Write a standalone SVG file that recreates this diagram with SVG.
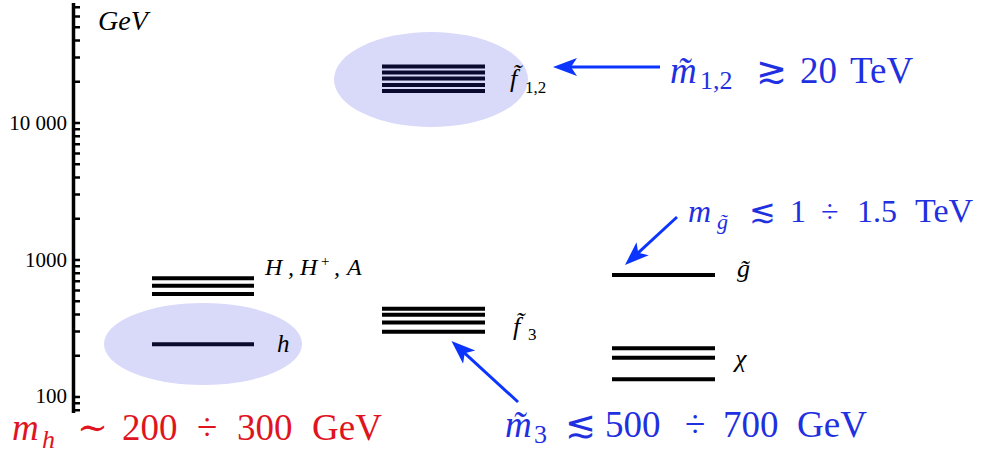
<svg xmlns="http://www.w3.org/2000/svg" width="990" height="454" viewBox="0 0 990 454">
<style>
  .ax{stroke:#000;stroke-width:3.5;fill:none}
  .tk{stroke:#000;stroke-width:2.5;fill:none}
  .tl{font-size:21px;fill:#000;text-anchor:end}
  .lvl{stroke:#000;stroke-width:4;fill:none}
  .lvd{stroke:#0a0a2e;stroke-width:4;fill:none}
  .blob{fill:#d9d9fa}
  .lab{font-style:italic;fill:#000}
  .math{font-size:37px}
  .it{font-style:italic}
  .blue{fill:#1f30e0}
  .red{fill:#e0141e}
  .arr{stroke:#0b35ff;stroke-width:3;fill:none;marker-end:url(#ah)}
</style>
<defs>
  <marker id="ah" viewBox="0 0 24 20" refX="12" refY="10" markerWidth="24" markerHeight="20" markerUnits="userSpaceOnUse" orient="auto">
    <path d="M0,1 L24,10 L0,19 L6,10 z" fill="#0b35ff"/>
  </marker>
</defs>
<rect width="990" height="454" fill="#fff"/>
<g font-family="Liberation Serif, DejaVu Serif, serif">

<g id="axis">
  <line class="ax" x1="73.5" y1="3" x2="73.5" y2="413"/>
  <path class="tk" d="M73.5,7.2H80M73.5,16.4H80M73.5,27.2H80M73.5,40.5H80M73.5,57.6H80M73.5,81.8H80M73.5,123H80M73.5,129.3H80M73.5,136.3H80M73.5,144.2H80M73.5,153.4H80M73.5,164.2H80M73.5,177.5H80M73.5,194.6H80M73.5,218.8H80M73.5,260H80M73.5,266.3H80M73.5,273.3H80M73.5,281.2H80M73.5,290.4H80M73.5,301.2H80M73.5,314.5H80M73.5,331.6H80M73.5,355.7H80M73.5,397H80M73.5,403.3H80M73.5,410.3H80"/>
  <text class="tl" x="67" y="130">10 000</text>
  <text class="tl" x="67" y="267">1000</text>
  <text class="tl" x="67" y="403">100</text>
  <text class="lab" x="98" y="30" font-size="28">GeV</text>
</g>

<g id="f12">
  <ellipse class="blob" cx="431" cy="79.5" rx="97" ry="47.5"/>
  <path class="lvd" d="M382,66.5H485M382,72.5H485M382,78.5H485M382,85H485M382,91H485"/>
  <text class="lab" font-size="26"><tspan x="510" y="87">f̃</tspan><tspan x="525" y="93" font-size="17" font-style="normal">1,2</tspan></text>
</g>

<g id="heavyHiggs">
  <path class="lvl" d="M152,278.3H254M152,285.7H254M152,294H254"/>
  <text class="lab" font-size="24"><tspan x="265" y="275">H</tspan><tspan x="288" y="275">,</tspan><tspan x="300" y="275">H</tspan><tspan x="321" y="266" font-size="15" font-style="normal">+</tspan><tspan x="334" y="275">,</tspan><tspan x="347" y="275">A</tspan></text>
</g>

<g id="h">
  <ellipse class="blob" cx="203" cy="344" rx="99" ry="41"/>
  <path class="lvd" d="M152,344.3H254"/>
  <text class="lab" x="277" y="352" font-size="25">h</text>
</g>

<g id="f3">
  <path class="lvl" d="M382,308.8H485M382,314.7H485M382,322.5H485M382,331.8H485"/>
  <text class="lab" font-size="26"><tspan x="513" y="335">f̃</tspan><tspan x="528" y="340" font-size="17" font-style="normal">3</tspan></text>
</g>

<g id="gluino">
  <path class="lvl" d="M612,275H715"/>
  <text class="lab" x="737" y="277" font-size="26">g̃</text>
</g>

<g id="chi">
  <path class="lvl" d="M612,348.3H715M612,357.7H715M612,379.3H715"/>
  <text class="lab" x="735" y="367" font-size="26">χ</text>
</g>

<g id="connectors">
  <line class="arr" x1="660" y1="67" x2="565" y2="67"/>
  <line class="arr" x1="677" y1="217" x2="633.8" y2="256.9"/>
  <line class="arr" x1="518" y1="402" x2="460.3" y2="349.1"/>
</g>

<g id="label-m12">
  <text class="math blue"><tspan class="it" x="670" y="83">m̃</tspan><tspan x="700" y="89" font-size="26">1,2</tspan><tspan x="756" y="83">≳</tspan><tspan x="800" y="83">20</tspan><tspan x="850" y="83">TeV</tspan></text>
</g>
<g id="label-mg">
  <text class="math blue"><tspan class="it" x="688" y="222" font-size="32">m</tspan><tspan class="it" x="717" y="229" font-size="22">g̃</tspan><tspan x="749" y="222" font-size="32">≲</tspan><tspan x="790" y="222" font-size="32">1</tspan><tspan x="821" y="222" font-size="32">÷</tspan><tspan x="857" y="222" font-size="32">1.5</tspan><tspan x="915" y="222" font-size="34">TeV</tspan></text>
</g>
<g id="label-m3">
  <text class="math blue"><tspan class="it" x="505" y="437">m̃</tspan><tspan x="534" y="443" font-size="26">3</tspan><tspan x="565" y="437">≲</tspan><tspan x="605" y="437">500</tspan><tspan x="685" y="437">÷</tspan><tspan x="723" y="437">700</tspan><tspan x="797" y="437">GeV</tspan></text>
</g>
<g id="label-mh">
  <text class="math red"><tspan class="it" x="12" y="440">m</tspan><tspan class="it" x="42" y="448" font-size="26">h</tspan><tspan x="77" y="440">∼</tspan><tspan x="122" y="440">200</tspan><tspan x="197" y="440">÷</tspan><tspan x="237" y="440">300</tspan><tspan x="312" y="440">GeV</tspan></text>
</g>
</g>
</svg>
